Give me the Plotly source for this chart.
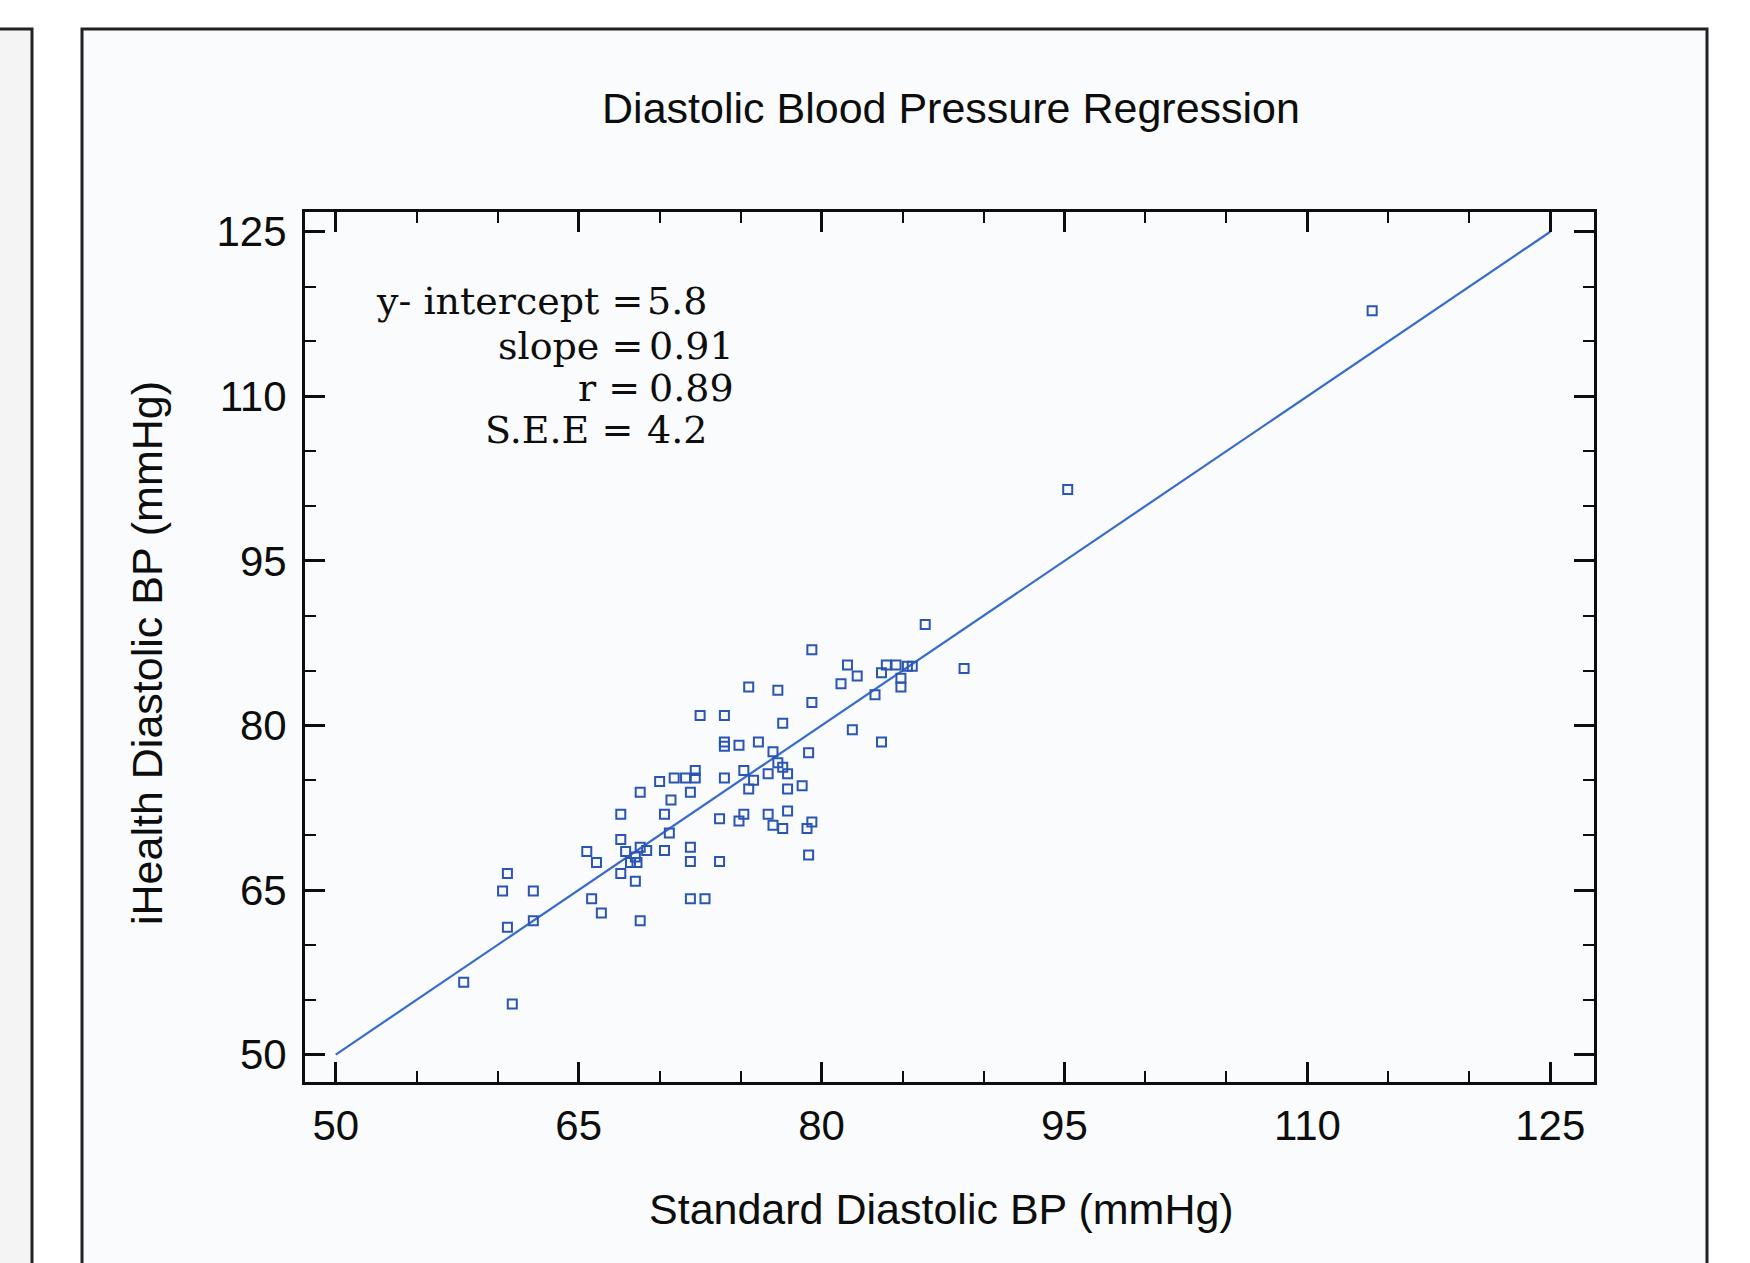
import plotly.graph_objects as go

# ---- data ----
std_bp = [72.5, 74.0, 74.0, 74.0, 70.0, 70.9, 71.6, 72.2, 72.2, 74.0, 68.8, 70.7, 71.9,
          67.6, 70.3, 73.7, 67.6, 70.6, 65.5, 66.1, 67.9, 68.8, 69.2, 68.2, 68.6, 68.5,
          70.3, 71.9, 71.9, 73.7, 67.6, 68.5, 60.6, 60.3, 62.2, 65.8, 66.4, 68.8, 71.9,
          72.8, 60.6, 62.2, 57.9, 60.9,
          86.4, 79.4, 81.6, 82.2, 83.7, 84.0, 84.6, 85.3, 85.6, 84.9, 84.9, 83.3, 81.2,
          88.8, 75.5, 77.3, 79.4, 77.6, 81.9, 83.7, 74.9, 76.1, 77.0, 79.2, 77.3, 77.6,
          75.2, 76.7, 77.9, 75.8, 75.5, 77.9, 78.8, 74.9, 75.2, 76.7, 77.0, 77.6, 77.9,
          79.1, 79.4, 79.2,
          95.2, 114.0]
ihealth_bp = [80.9, 80.9, 78.5, 78.1, 74.9, 75.2, 75.2, 75.2, 75.9, 75.2, 73.9, 73.2, 73.9,
              71.9, 71.9, 71.5, 69.6, 70.2, 68.5, 67.5, 68.5, 68.9, 68.6, 67.5, 67.5, 68.0,
              68.6, 68.9, 67.6, 67.6, 66.5, 65.8, 66.5, 64.9, 64.9, 64.2, 62.9, 62.2, 64.2,
              64.2, 61.6, 62.2, 56.6, 54.6,
              89.2, 86.9, 85.5, 84.5, 84.8, 85.5, 85.5, 85.4, 85.4, 84.3, 83.5, 82.8, 83.8,
              85.2, 83.5, 83.2, 82.1, 80.2, 79.6, 78.5, 78.2, 78.5, 77.6, 77.5, 76.6, 76.2,
              75.9, 75.6, 75.6, 75.0, 74.2, 74.2, 74.5, 71.3, 71.9, 71.9, 70.9, 70.6, 72.2,
              70.6, 71.2, 68.2,
              101.5, 117.8]
line_x = [50, 125]
line_y = [50, 125]
tick_vals = [50, 65, 80, 95, 110, 125]
stat_labels = ["y- intercept =", "slope =", "r =", "S.E.E ="]
stat_values = ["5.8", "0.91", "0.89", "4.2"]
chart_title = "Diastolic Blood Pressure Regression"
x_title = "Standard Diastolic BP (mmHg)"
y_title = "iHealth Diastolic BP (mmHg)"

# ---- layout geometry (pixels) ----
W, H = 1750, 1263
L, R, T, B = 305, 1594, 212, 1082
pw, ph = R - L, B - T

def px(x):
    return (x - L) / pw

def py(y):
    return (B - y) / ph

sans = "Liberation Sans, Arial, Helvetica, sans-serif"
serif = "DejaVu Serif, Liberation Serif, serif"
ink = "#0d0d0d"

fig = go.Figure()
fig.add_trace(go.Scatter(x=line_x, y=line_y, mode="lines",
                         line=dict(color="#3a6bcb", width=2.2),
                         showlegend=False, hoverinfo="skip"))
fig.add_trace(go.Scatter(x=std_bp, y=ihealth_bp, mode="markers",
                         marker=dict(symbol="square-open", size=9, color="#2b55b2",
                                     line=dict(width=2, color="#2b55b2")),
                         showlegend=False))

axis_common = dict(
    tickvals=tick_vals, ticks="inside", ticklen=20, tickwidth=2.5, tickcolor=ink,
    showline=True, linecolor=ink, linewidth=3, mirror="ticks",
    showgrid=False, zeroline=False,
    tickfont=dict(family=sans, size=42, color=ink),
    minor=dict(tick0=50, dtick=5, ticks="inside", ticklen=11, tickwidth=2,
               tickcolor=ink, showgrid=False),
)
fig.update_xaxes(range=[48.1, 127.7], ticklabelstandoff=5, **axis_common)
fig.update_yaxes(range=[47.5, 126.8], ticklabelstandoff=7, **axis_common)

shapes = [
    # left neighbouring panel
    dict(type="rect", xref="paper", yref="paper", x0=px(-10), x1=px(32), y0=py(1300), y1=py(29),
         fillcolor="#f3f4f3", line=dict(color="#222", width=3), layer="below"),
    # main panel
    dict(type="rect", xref="paper", yref="paper", x0=px(82), x1=px(1707), y0=py(1300), y1=py(29),
         fillcolor="#f9fbfc", line=dict(color="#222", width=3), layer="below"),
]

annotations = [
    dict(text=x_title, xref="paper", yref="paper", x=px(941), y=py(1209),
         xanchor="center", yanchor="middle", showarrow=False,
         font=dict(family=sans, size=43, color=ink)),
    dict(text=y_title, xref="paper", yref="paper", x=px(147), y=py(653),
         xanchor="center", yanchor="middle", showarrow=False, textangle=-90,
         font=dict(family=sans, size=43, color=ink)),
]
label_right = [644, 644, 641, 634]
value_left = [646, 648, 648, 646]
line_y_px = [301, 346, 388, 430]
for lab, val, lr, vl, ly in zip(stat_labels, stat_values, label_right, value_left, line_y_px):
    annotations.append(dict(text=lab, xref="paper", yref="paper", x=px(lr), y=py(ly),
                            xanchor="right", yanchor="middle", showarrow=False, borderpad=0,
                            font=dict(family=serif, size=38, color=ink)))
    annotations.append(dict(text=val, xref="paper", yref="paper", x=px(vl), y=py(ly),
                            xanchor="left", yanchor="middle", showarrow=False, borderpad=0,
                            font=dict(family=serif, size=38, color=ink)))

fig.update_layout(
    width=W, height=H,
    margin=dict(l=L, r=W - R, t=T, b=H - B),
    paper_bgcolor="white", plot_bgcolor="rgba(0,0,0,0)",
    title=dict(text=chart_title, x=px(951), xref="paper", xanchor="center",
               y=1 - 108 / H, yref="container", yanchor="middle",
               font=dict(family=sans, size=43, color=ink)),
    shapes=shapes, annotations=annotations,
)

fig.write_html("out.html",
               config={"displayModeBar": False},
               post_script="document.body.style.margin='0';document.body.style.padding='0';")
